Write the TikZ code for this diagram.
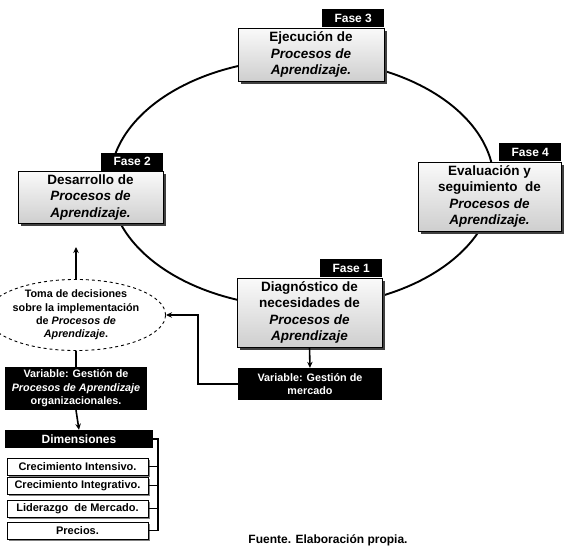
\documentclass[tikz,border=0pt]{standalone}
\usepackage{fontspec}
\setmainfont{Liberation Sans}
\usetikzlibrary{shadows,arrows.meta,shapes.geometric}
\begin{document}
\begin{tikzpicture}[x=1pt,y=-1pt,
  phase/.style={draw, line width=0.9pt, top color=gray!4, bottom color=gray!38,
    drop shadow={shadow xshift=2.5pt,shadow yshift=-2.5pt,fill=black!75,opacity=1},
    align=center, inner sep=0pt, font=\bfseries\fontsize{13.5}{16.5}\selectfont},
  tag/.style={fill=black, text=white, inner sep=0pt, minimum width=62pt,
    minimum height=18pt, font=\bfseries\fontsize{12}{14}\selectfont},
  blackbox/.style={fill=black, text=white, inner sep=0pt, align=center,
    font=\bfseries\fontsize{10.8}{13.4}\selectfont},
  dimbox/.style={draw, line width=0.9pt, fill=white, inner sep=0pt,
    minimum width=141pt, minimum height=17pt,
    drop shadow={shadow xshift=1.5pt,shadow yshift=-1.5pt,fill=black!50,opacity=1},
    font=\bfseries\fontsize{11}{13}\selectfont},
  arr/.style={line width=1.6pt, -{Stealth[length=6pt,width=5.5pt]}},
  link/.style={line width=1.6pt},
]
\useasboundingbox (0,0) rectangle (571,547);

% main cycle
\node[draw, ellipse, line width=1.9pt, minimum width=384pt, minimum height=248pt] (cyc) at (302,183) {};

% phase boxes
\node[phase, minimum width=146pt, minimum height=53pt] (f3) at (311,54.5)
  {Ejecución de\\\textit{Procesos de}\\\textit{Aprendizaje.}};
\node[tag, anchor=south east] (t3) at (f3.north east) {Fase 3};

\node[phase, minimum width=145pt, minimum height=52pt] (f2) at (90.5,197.5)
  {Desarrollo de\\\textit{Procesos de}\\\textit{Aprendizaje.}};
\node[tag, anchor=south east] (t2) at (f2.north east) {Fase 2};

\node[phase, minimum width=143pt, minimum height=69pt] (f4) at (489.5,196.5)
  {Evaluación y\\seguimiento\ \ de\\\textit{Procesos de}\\\textit{Aprendizaje.}};
\node[tag, anchor=south east] (t4) at (f4.north east) {Fase 4};

\node[phase, minimum width=145pt, minimum height=69pt] (f1) at (309.5,312.5)
  {Diagnóstico de\\necesidades de\\\textit{Procesos de}\\\textit{Aprendizaje}};
\node[tag, anchor=south east] (t1) at (f1.north east) {Fase 1};

% market variable
\node[blackbox, minimum width=144pt, minimum height=32pt] (merc) at (310,384)
  {Variable: Gestión de\\mercado};

% decision ellipse
\node[draw, ellipse, dashed, line width=0.9pt, minimum width=138pt, minimum height=64pt,
  inner sep=0pt, align=center, font=\bfseries\fontsize{10.8}{13.4}\selectfont] (ell) at (76,315)
  {Toma de decisiones\\sobre la implementación\\de \textit{Procesos de}\\\textit{Aprendizaje}.};
\coordinate (up) at (76,247);

% organisational variable
\node[blackbox, minimum width=142pt, minimum height=43pt] (var) at (76,388.5)
  {Variable: Gestión de\\\textit{Procesos de Aprendizaje}\\organizacionales.};

% dimensions
\node[blackbox, minimum width=148pt, minimum height=18pt,
  font=\bfseries\fontsize{12}{14}\selectfont] (dimh) at (79,439) {Dimensiones};
\node[dimbox] (d1) at (77.5,466.5) {Crecimiento Intensivo.};
\node[dimbox] (d2) at (77.5,485.5) {Crecimiento Integrativo.};
\node[dimbox] (d3) at (77.5,508.5) {Liderazgo\ \ de Mercado.};
\node[dimbox] (d4) at (77.5,530.5) {Precios.};
\coordinate (bx) at (158,0);

% connectors
\draw[arr] (ell.north) -- (up);
\draw[link] (var.north) -- (ell.south);
\draw[arr] (var.south) -- (dimh.north);
\draw[arr] (f1.south) -- (merc.north);
\draw[arr] (merc.west) -- ++(-40,0) |- (ell.east);

% bracket
\draw[line width=1.8pt] (dimh.east) -| (bx |- d4.east) -- (d4.east);
\draw[line width=1.8pt] (d1.east) -- (d1.east -| bx);
\draw[line width=1.8pt] (d2.east) -- (d2.east -| bx);
\draw[line width=1.8pt] (d3.east) -- (d3.east -| bx);

% source
\node[font=\bfseries\fontsize{12}{14}\selectfont, anchor=base, inner sep=0pt] (src) at (328,543)
  {Fuente. Elaboración propia.};
\end{tikzpicture}
\end{document}
